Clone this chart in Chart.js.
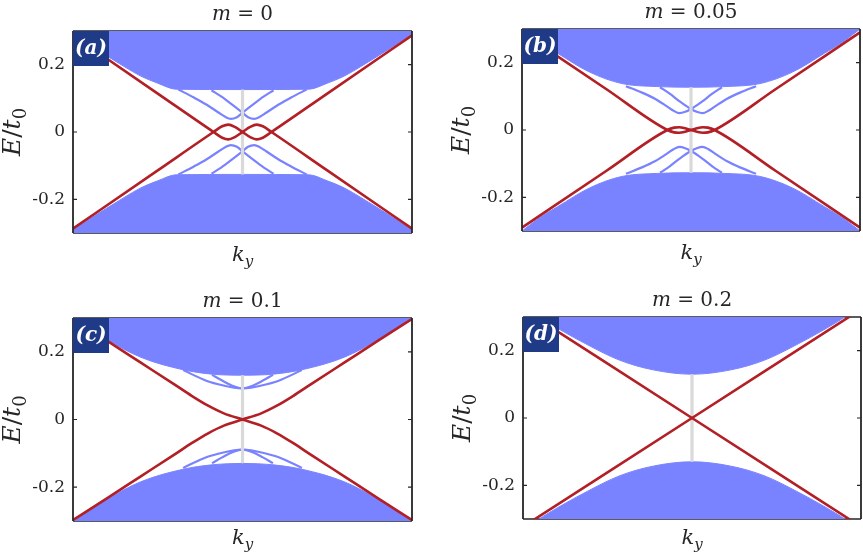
<!DOCTYPE html>
<html>
<head>
<meta charset="utf-8">
<script src="https://cdn.jsdelivr.net/npm/chart.js@4.4.1/dist/chart.umd.min.js"></script>
<style>
  body { margin: 0; background: #fff; }
  #wrap { position: relative; width: 863px; height: 556px; overflow: hidden; }
  canvas { position: absolute; }
</style>
</head>
<body>
<div id="wrap">
  <canvas id="pa" width="432" height="278" style="left:0px;top:0px"></canvas>
  <canvas id="pb" width="431" height="278" style="left:432px;top:0px"></canvas>
  <canvas id="pc" width="432" height="278" style="left:0px;top:278px"></canvas>
  <canvas id="pd" width="431" height="278" style="left:432px;top:278px"></canvas>
</div>
<script>
// ---- data (k_y in [-1, 1], E/t0 in [-0.3, 0.3]) ----
const yTicks = [-0.2, 0, 0.2];
const yTickLabels = ['-0.2', '0', '0.2'];
const mValues = ['0', '0.05', '0.1', '0.2'];
const panelTags = ['(a)', '(b)', '(c)', '(d)'];
const grayK = [0, 0];

// (a) m = 0
const aEdgeK = [-1, -0.9, -0.8, -0.7, -0.6, -0.5, -0.39, 0, 0.39, 0.5, 0.6, 0.7, 0.8, 0.9, 1];
const aEdgeUp = [0.292, 0.258, 0.226, 0.195, 0.166, 0.145, 0.127, 0.126, 0.127, 0.145, 0.166, 0.195, 0.226, 0.258, 0.292];
const aEdgeDn = [-0.292, -0.258, -0.226, -0.195, -0.166, -0.145, -0.127, -0.126, -0.127, -0.145, -0.166, -0.195, -0.226, -0.258, -0.292];
const aGapK1 = [-0.378, -0.289, -0.211, -0.142, -0.102, -0.069, -0.033, 0.006, 0.065, 0.124, 0.183];
const aGapK2 = [-0.183, -0.124, -0.065, -0.006, 0.033, 0.069, 0.102, 0.142, 0.211, 0.289, 0.378];
const aGapUp1 = [0.126, 0.103, 0.081, 0.058, 0.045, 0.039, 0.044, 0.060, 0.083, 0.105, 0.124];
const aGapUp2 = [0.124, 0.105, 0.083, 0.060, 0.044, 0.039, 0.045, 0.058, 0.081, 0.103, 0.126];
const aGapDn1 = [-0.126, -0.103, -0.081, -0.058, -0.045, -0.039, -0.044, -0.060, -0.083, -0.105, -0.124];
const aGapDn2 = [-0.124, -0.105, -0.083, -0.060, -0.044, -0.039, -0.045, -0.058, -0.081, -0.103, -0.126];
const aRedK = [-1, -0.5, -0.171, -0.12, -0.083, -0.045, 0, 0.045, 0.083, 0.12, 0.171, 0.5, 1];
const aRed1 = [-0.287, -0.114, 0, 0.017, 0.022, 0.015, 0, -0.015, -0.022, -0.017, 0, 0.114, 0.287];
const aRed2 = [0.287, 0.114, 0, -0.017, -0.022, -0.015, 0, 0.015, 0.022, 0.017, 0, -0.114, -0.287];
const aGrayE = [-0.126, 0.126];

// (b) m = 0.05
const bEdgeK = [-1, -0.9, -0.79, -0.6, -0.41, -0.2, 0, 0.2, 0.41, 0.6, 0.79, 0.9, 1];
const bEdgeUp = [0.30, 0.262, 0.228, 0.172, 0.138, 0.129, 0.127, 0.129, 0.138, 0.172, 0.228, 0.262, 0.30];
const bEdgeDn = [-0.30, -0.262, -0.228, -0.172, -0.138, -0.129, -0.127, -0.129, -0.138, -0.172, -0.228, -0.262, -0.30];
const bGapK1 = [-0.385, -0.290, -0.211, -0.142, -0.103, -0.069, -0.034, 0.006, 0.065, 0.124, 0.183];
const bGapK2 = [-0.183, -0.124, -0.065, -0.006, 0.034, 0.069, 0.103, 0.142, 0.211, 0.290, 0.385];
const bGapUp1 = [0.130, 0.111, 0.092, 0.070, 0.057, 0.050, 0.054, 0.064, 0.084, 0.107, 0.127];
const bGapUp2 = [0.127, 0.107, 0.084, 0.064, 0.054, 0.050, 0.057, 0.070, 0.092, 0.111, 0.130];
const bGapDn1 = [-0.130, -0.111, -0.092, -0.070, -0.057, -0.050, -0.054, -0.064, -0.084, -0.107, -0.127];
const bGapDn2 = [-0.127, -0.107, -0.084, -0.064, -0.054, -0.050, -0.057, -0.070, -0.092, -0.111, -0.130];
const bRedK = [-1, -0.5, -0.14, -0.1, -0.07, -0.035, 0, 0.035, 0.07, 0.1, 0.14, 0.5, 1];
const bRed1 = [-0.29, -0.121, 0, 0.007, 0.008, 0.005, 0, -0.005, -0.008, -0.007, 0, 0.121, 0.29];
const bRed2 = [0.29, 0.121, 0, -0.007, -0.008, -0.005, 0, 0.005, 0.008, 0.007, 0, -0.121, -0.29];
const bGrayE = [-0.127, 0.127];

// (c) m = 0.1
const cEdgeK = [-1, -0.8, -0.6, -0.35, -0.18, 0, 0.18, 0.35, 0.6, 0.8, 1];
const cEdgeUp = [0.30, 0.236, 0.184, 0.147, 0.134, 0.131, 0.134, 0.147, 0.184, 0.236, 0.30];
const cEdgeDn = [-0.30, -0.236, -0.184, -0.147, -0.134, -0.130, -0.134, -0.147, -0.184, -0.236, -0.30];
const cGapK1 = [-0.35, -0.21, -0.1, -0.05, 0, 0.06, 0.12, 0.18];
const cGapK2 = [-0.18, -0.12, -0.06, 0, 0.05, 0.1, 0.21, 0.35];
const cGapUp1 = [0.146, 0.114, 0.099, 0.094, 0.092, 0.100, 0.115, 0.132];
const cGapUp2 = [0.132, 0.115, 0.100, 0.092, 0.094, 0.099, 0.114, 0.146];
const cGapDn1 = [-0.143, -0.111, -0.096, -0.091, -0.089, -0.097, -0.112, -0.129];
const cGapDn2 = [-0.129, -0.112, -0.097, -0.089, -0.091, -0.096, -0.111, -0.143];
const cRedK = [-1, -0.8, -0.6, -0.4, -0.3, -0.2, -0.11, 0, 0.11, 0.2, 0.3, 0.4, 0.6, 0.8, 1];
const cRed1 = [-0.297, -0.233, -0.168, -0.103, -0.07, -0.04, -0.018, 0, 0.018, 0.04, 0.07, 0.103, 0.168, 0.233, 0.297];
const cRed2 = [0.297, 0.233, 0.168, 0.103, 0.07, 0.04, 0.018, 0, -0.018, -0.04, -0.07, -0.103, -0.168, -0.233, -0.297];
const cGrayE = [-0.129, 0.131];

// (d) m = 0.2
const dEdgeK = [-1, -0.92, -0.78, -0.62, -0.43, -0.23, 0, 0.23, 0.43, 0.62, 0.78, 0.92, 1];
const dEdgeUp = [0.335, 0.305, 0.262, 0.218, 0.172, 0.143, 0.13, 0.143, 0.172, 0.218, 0.262, 0.305, 0.335];
const dEdgeDn = [-0.335, -0.305, -0.262, -0.218, -0.172, -0.143, -0.13, -0.143, -0.172, -0.218, -0.262, -0.305, -0.335];
const dRedK = [-1, 0, 1];
const dRed1 = [-0.323, 0, 0.323];
const dRed2 = [0.323, 0, -0.323];
const dGrayE = [-0.13, 0.13];

// ---- styling ----
const BLUE = '#7A83FF';
const RED = '#B21F25';
const GRAY = '#D9D9D9';
const NAVY = '#1F3A86';
const INK = '#262626';
const SERIF = "'DejaVu Serif', serif";

function pts(ks, es) {
  return ks.map((k, i) => ({ x: k, y: es[i] }));
}

function curve(ks, es, color, width, order, extra) {
  return Object.assign({
    data: pts(ks, es),
    borderColor: color,
    borderWidth: width,
    pointRadius: 0,
    fill: false,
    clip: 0,
    cubicInterpolationMode: 'monotone',
    order: order,
  }, extra || {});
}

// draws a run of text pieces, some italic / subscript, centred on x at baseline y
function drawRich(ctx, parts, x, y, size) {
  const fontOf = p => (p.i ? 'italic ' : '') + Math.round(p.sub ? size * 0.7 : size) + 'px ' + SERIF;
  let total = 0;
  parts.forEach(p => { ctx.font = fontOf(p); total += ctx.measureText(p.t).width; });
  let cx = x - total / 2;
  ctx.textAlign = 'left';
  ctx.textBaseline = 'alphabetic';
  parts.forEach(p => {
    ctx.font = fontOf(p);
    ctx.fillText(p.t, cx, y + (p.sub ? size * 0.22 : 0));
    cx += ctx.measureText(p.t).width;
  });
}

const decor = {
  id: 'decor',
  beforeDatasetsDraw(chart) {
    const { ctx, chartArea: a } = chart;
    ctx.save();
    ctx.strokeStyle = INK;
    ctx.lineWidth = 1.5;
    ctx.beginPath();
    ctx.moveTo(a.left, a.top); ctx.lineTo(a.right, a.top);
    ctx.moveTo(a.left, a.bottom); ctx.lineTo(a.right, a.bottom);
    ctx.stroke();
    ctx.restore();
  },
  afterDatasetsDraw(chart, args, o) {
    const { ctx, chartArea: a } = chart;
    const ys = chart.scales.y;
    ctx.save();
    ctx.strokeStyle = INK;
    ctx.lineWidth = 1.8;
    ctx.beginPath();
    ctx.moveTo(a.left, a.top); ctx.lineTo(a.left, a.bottom);
    ctx.moveTo(a.right, a.top); ctx.lineTo(a.right, a.bottom);
    ctx.stroke();
    ctx.lineWidth = 1.2;
    ctx.beginPath();
    yTicks.forEach(v => {
      const py = ys.getPixelForValue(v);
      ctx.moveTo(a.left, py); ctx.lineTo(a.left + 4, py);
      ctx.moveTo(a.right, py); ctx.lineTo(a.right - 4, py);
    });
    ctx.stroke();
    // panel tag box
    ctx.fillStyle = NAVY;
    ctx.fillRect(a.left, a.top, 36, 35);
    ctx.fillStyle = '#fff';
    ctx.font = 'italic bold 20px ' + SERIF;
    ctx.textAlign = 'center';
    ctx.textBaseline = 'middle';
    ctx.fillText(o.tag, a.left + 18, a.top + 18);
    ctx.restore();
  },
  afterDraw(chart, args, o) {
    const { ctx, chartArea: a } = chart;
    const mid = (a.left + a.right) / 2;
    ctx.save();
    ctx.fillStyle = INK;
    drawRich(ctx, [{ t: 'm', i: true }, { t: ' = ' + o.m }], mid, a.top - 11, 20);
    drawRich(ctx, [{ t: 'k', i: true }, { t: 'y', i: true, sub: true }], mid, a.bottom + o.xLab, 21);
    ctx.translate(a.left - 53, (a.top + a.bottom) / 2);
    ctx.rotate(-Math.PI / 2);
    drawRich(ctx, [{ t: 'E', i: true }, { t: '/' }, { t: 't', i: true }, { t: '0', sub: true }], 0, 0, 25);
    ctx.restore();
  }
};

function makePanel(id, idx, box, edgeK, edgeUp, edgeDn, gaps, redK, red1, red2, grayE) {
  const datasets = [
    curve(redK, red1, RED, 2.6, 0),
    curve(redK, red2, RED, 2.6, 0),
    curve(grayK, grayE, GRAY, 3.2, 1),
  ];
  gaps.forEach(g => datasets.push(curve(g[0], g[1], BLUE, 2.2, 2)));
  datasets.push(curve(edgeK, edgeUp, BLUE, 1, 3, { fill: 'end', backgroundColor: BLUE }));
  datasets.push(curve(edgeK, edgeDn, BLUE, 1, 3, { fill: 'start', backgroundColor: BLUE }));

  new Chart(document.getElementById(id), {
    type: 'line',
    data: { datasets: datasets },
    plugins: [decor],
    options: {
      responsive: false,
      animation: false,
      events: [],
      layout: { padding: { left: 0, top: box.top, right: box.right, bottom: box.bottom } },
      plugins: {
        legend: { display: false },
        tooltip: { enabled: false },
        decor: { m: mValues[idx], tag: panelTags[idx], xLab: box.xLab },
      },
      scales: {
        x: { type: 'linear', min: -1, max: 1, display: false },
        y: {
          type: 'linear',
          min: -0.3,
          max: 0.3,
          afterBuildTicks: s => { s.ticks = yTicks.map(v => ({ value: v })); },
          afterFit: s => { s.width = box.left; },
          grid: { display: false, drawTicks: false },
          border: { display: false },
          ticks: {
            padding: 8,
            color: INK,
            font: { family: SERIF, size: 17 },
            callback: v => yTickLabels[yTicks.indexOf(v)],
          },
        },
      },
    },
  });
}

makePanel('pa', 0, { left: 73, top: 31, right: 20, bottom: 45, xLab: 28 },
  aEdgeK, aEdgeUp, aEdgeDn,
  [[aGapK1, aGapUp1], [aGapK2, aGapUp2], [aGapK1, aGapDn1], [aGapK2, aGapDn2]],
  aRedK, aRed1, aRed2, aGrayE);
makePanel('pb', 1, { left: 90, top: 29, right: 3, bottom: 47, xLab: 28 },
  bEdgeK, bEdgeUp, bEdgeDn,
  [[bGapK1, bGapUp1], [bGapK2, bGapUp2], [bGapK1, bGapDn1], [bGapK2, bGapDn2]],
  bRedK, bRed1, bRed2, bGrayE);
makePanel('pc', 2, { left: 73, top: 40, right: 20, bottom: 35, xLab: 23 },
  cEdgeK, cEdgeUp, cEdgeDn,
  [[cGapK1, cGapUp1], [cGapK2, cGapUp2], [cGapK1, cGapDn1], [cGapK2, cGapDn2]],
  cRedK, cRed1, cRed2, cGrayE);
makePanel('pd', 3, { left: 91, top: 39, right: 2, bottom: 37, xLab: 25 },
  dEdgeK, dEdgeUp, dEdgeDn, [],
  dRedK, dRed1, dRed2, dGrayE);
</script>
</body>
</html>
